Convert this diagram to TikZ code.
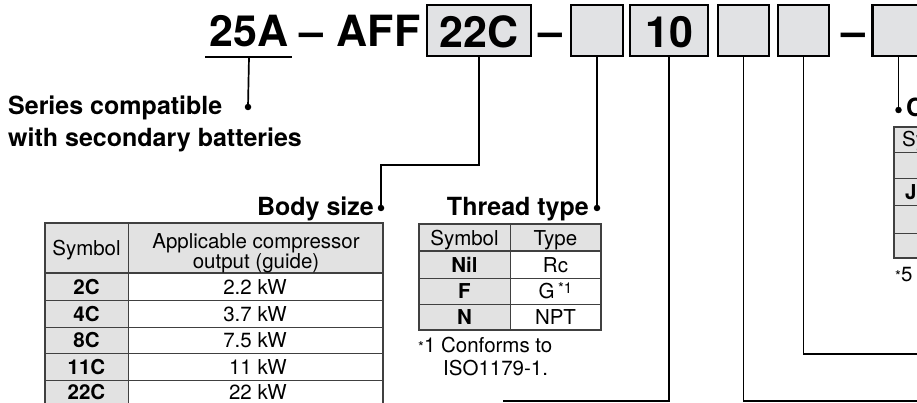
\documentclass[tikz,border=0pt]{standalone}
\usepackage{fontspec}
\setmainfont{TeX Gyre Heros}
\definecolor{boxgray}{HTML}{E1E2E4}
\definecolor{cellgray}{HTML}{E2E2E2}
\definecolor{rulegray}{HTML}{404040}
\begin{document}
\begin{tikzpicture}[x=1pt,y=-1pt,
 conn/.style={line width=1.7pt},
 codebox/.style={draw, line width=2.2pt, fill=boxgray, inner sep=0pt},
 big/.style={font=\fontsize{43}{43}\selectfont\bfseries, inner sep=0pt, anchor=base},
 lbl/.style={font=\fontsize{25}{31}\selectfont\bfseries, inner sep=0pt, anchor=base},
 cell/.style={font=\fontsize{20.5}{20}\selectfont, inner sep=0pt, anchor=base},
 cellb/.style={font=\fontsize{20.5}{20}\selectfont\bfseries, inner sep=0pt, anchor=base},
 dotc/.style={circle, fill, inner sep=0pt, minimum size=6.5pt},
 tabframe/.style={draw=rulegray, line width=1.5pt},
 tabrule/.style={draw=rulegray, line width=1pt}
]
\useasboundingbox (0,0) rectangle (917,403);
\clip (0,0) rectangle (917,403);

% ---- code line ----
\node[big] (t25) at (249,47) {25A};
\node[big] (td1) at (311,47) {–};
\node[big] (taff) at (378.5,47) {AFF};
\node[codebox, minimum width=104pt, minimum height=51pt] (b22) at (479,30.5) {};
\node[big] (t22) at (479,48) {22C};
\node[big] (td2) at (550,47) {–};
\node[codebox, minimum width=52pt, minimum height=51pt] (b1) at (597,30.5) {};
\node[codebox, minimum width=78pt, minimum height=51pt] (b10) at (669,30.5) {};
\node[big] (t10) at (669,48) {10};
\node[codebox, minimum width=51pt, minimum height=51pt] (b3) at (743.5,30.5) {};
\node[codebox, minimum width=51pt, minimum height=51pt] (b4) at (803.5,30.5) {};
\node[big] (td3) at (853,47) {–};
\node[codebox, minimum width=52pt, minimum height=51pt] (b5) at (898.5,30.5) {};

% underline of 25A
\coordinate (u1) at (205,57);
\coordinate (u2) at (292,57);
\coordinate (u25) at (249,57);
\draw[conn] (u1) -- (u2);

% ---- labels and dots ----
\node[dotc] (dSer) at (248,107) {};
\node[lbl, anchor=base west] (tSer1) at (8,115) {Series compatible};
\node[lbl, anchor=base west] (tSer2) at (8,147) {with secondary batteries};

\node[lbl, anchor=base east] (tBody) at (374,215) {Body size};
\node[dotc] (dBody) at (381,208) {};
\node[lbl, anchor=base east] (tThr) at (589,215) {Thread type};
\node[dotc] (dThr) at (597,208) {};
\node[dotc] (dC) at (898.5,110) {};
\node[lbl, anchor=base west] (tC) at (906,117) {C};

% ---- connectors ----
\coordinate (e10) at (503,401);
\coordinate (e3) at (921,401);
\coordinate (e4) at (921,354);
\draw[conn] (u25) -- (dSer.center);
\draw[conn] (b22.south) -- ++(0,108) -| (dBody.center);
\draw[conn] (b1.south) -- (dThr.center);
\draw[conn] (b10.south) |- (e10);
\draw[conn] (b3.south) |- (e3);
\draw[conn] (b4.south) |- (e4);
\draw[conn] (b5.south) -- (dC.center);

% ---- Body size table ----
\fill[cellgray] (45,223) rectangle (383,273);
\fill[cellgray] (45,273) rectangle (128,410);
\foreach \yy in {300,327,353,380} \draw[tabrule] (45,\yy) -- (383,\yy);
\draw[tabrule] (128,223) -- (128,410);
\draw[tabframe] (45,410) -- (45,223) -- (383,223) -- (383,410);
\draw[tabframe] (45,273) -- (383,273);
\node[cell] (bh1) at (86.5,255) {Symbol};
\node[cell] (bh2a) at (256,248) {Applicable compressor};
\node[cell] (bh2b) at (256,268) {output (guide)};
\node[cellb] (bs1) at (86.5,294) {2C};
\node[cellb] (bs2) at (86.5,321) {4C};
\node[cellb] (bs3) at (86.5,347.5) {8C};
\node[cellb] (bs4) at (86.5,374) {11C};
\node[cellb] (bs5) at (86.5,399.5) {22C};
\node[cell, anchor=base east] (bv1) at (287,294) {2.2 kW};
\node[cell, anchor=base east] (bv2) at (287,321) {3.7 kW};
\node[cell, anchor=base east] (bv3) at (287,347.5) {7.5 kW};
\node[cell, anchor=base east] (bv4) at (287,374) {11 kW};
\node[cell, anchor=base east] (bv5) at (287,399.5) {22 kW};

% ---- Thread type table ----
\fill[cellgray] (419,224) rectangle (601,251);
\fill[cellgray] (419,251) rectangle (510,330);
\foreach \yy in {278,304} \draw[tabrule] (419,\yy) -- (601,\yy);
\draw[tabrule] (510,224) -- (510,330);
\draw[tabframe] (419,251) -- (601,251);
\draw[tabframe] (419,224) rectangle (601,330);
\node[cell] (th1) at (464.5,245) {Symbol};
\node[cell] (th2) at (555.5,245) {Type};
\node[cellb] (ts1) at (464.5,272) {Nil};
\node[cellb] (ts2) at (464.5,298.5) {F};
\node[cellb] (ts3) at (464.5,324.5) {N};
\node[cell] (tv1) at (555.5,272) {Rc};
\node[cell] (tv2) at (555.5,298.5) {G\,\raisebox{5pt}{\fontsize{15}{15}\selectfont *1}};
\node[cell] (tv3) at (555.5,324.5) {NPT};
\node[cell, anchor=base west] (tn1) at (418,352) {{\fontsize{15}{15}\selectfont *}1 Conforms to};
\node[cell, anchor=base west] (tn2) at (443,375) {ISO1179-1.};

% ---- right table (cut off) ----
\fill[cellgray] (894,127) rectangle (925,258);
\foreach \yy in {153,179,206,233} \draw[tabrule] (894,\yy) -- (925,\yy);
\draw[tabframe] (925,127) -- (894,127) -- (894,258) -- (925,258);
\node[cell, anchor=base west] (rh1) at (902,147) {Symbol};
\node[cellb, anchor=base west] (rs2) at (905,200) {J};
\node[cell, anchor=base west] (rn1) at (895,281) {{\fontsize{15}{15}\selectfont *}5};
\end{tikzpicture}
\end{document}
